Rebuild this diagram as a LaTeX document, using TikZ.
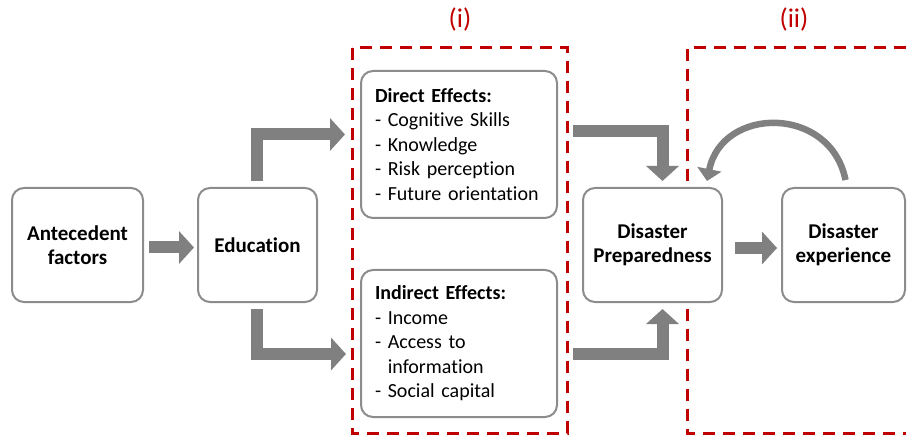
\documentclass[tikz,border=0pt]{standalone}
\usepackage{fontspec}
\setmainfont[Ligatures=NoCommon]{Carlito}
\usetikzlibrary{arrows.meta,calc}
\definecolor{boxgray}{HTML}{8C8C8C}
\definecolor{arrgray}{HTML}{808080}
\definecolor{dred}{HTML}{C00000}
\begin{document}
\begin{tikzpicture}[x=1pt,y=-1pt,
  box/.style={draw=boxgray, line width=2pt, rounded corners=12pt, fill=white, align=center,
    font=\bfseries\fontsize{21}{24}\selectfont, inner sep=0pt},
  effbox/.style={draw=boxgray, line width=2pt, rounded corners=12pt, fill=white, align=left,
    font=\fontsize{20}{24.5}\selectfont, inner sep=0pt, minimum width=196pt, minimum height=147pt,
    text width=168pt},
  bigarrow/.style={draw=arrgray, line width=12pt, line join=miter, -{Triangle[length=15pt,width=32pt]}},
  curvearrow/.style={draw=arrgray, line width=6.5pt, -{Triangle[length=12pt,width=24pt]}},
  region/.style={draw=dred, line width=3pt, dash pattern=on 12pt off 8pt},
  regionlabel/.style={text=dred, font=\fontsize{27}{28}\selectfont}
]
\useasboundingbox (0,0) rectangle (909,435);
% regions
\coordinate (r1a) at (352,48);
\coordinate (r1b) at (567,433);
\draw[region] (r1a) rectangle (r1b);
\coordinate (r2a) at (687,48);
\coordinate (r2b) at (906,48);
\coordinate (r2c) at (687,433);
\coordinate (r2d) at (906,433);
\draw[region] (r2b) -- (r2a) -- (r2c) -- (r2d);
\node[regionlabel] (lab1) at (460,20) {(i)};
\node[regionlabel] (lab2) at (794,20) {(ii)};
% boxes
\node[box, minimum width=131pt, minimum height=114pt] (ante) at (77.5,245) {Antecedent\\factors};
\node[box, minimum width=119pt, minimum height=114pt] (edu) at (257.5,245) {Education};
\node[effbox] (dir) at (459,144.5) {\textbf{Direct Effects:}\\- Cognitive Skills\\- Knowledge\\- Risk perception\\- Future orientation};
\node[effbox] (ind) at (459,343.5) {\textbf{Indirect Effects:}\\- Income\\- Access to\\\phantom{- }information\\- Social capital};
\node[box, minimum width=139pt, minimum height=114pt] (prep) at (652.5,245) {Disaster\\Preparedness};
\node[box, minimum width=123pt, minimum height=114pt] (exp) at (843.5,245) {Disaster\\experience};
% arrows
\draw[bigarrow] ($(ante.east)+(5,2.5)$) -- ($(edu.west)+(-3,2.5)$);
\draw[bigarrow] ($(edu.north)+(-1,-6)$) |- ($(dir.west)+(-15,-10)$);
\draw[bigarrow] ($(edu.south)+(-1,6)$) |- ($(ind.west)+(-14,10.5)$);
\draw[bigarrow] ($(dir.east)+(15,-13.5)$) -| ($(prep.north)+(10,-6)$);
\draw[bigarrow] ($(ind.east)+(15,10.5)$) -| ($(prep.south)+(10,6)$);
\draw[bigarrow] ($(prep.east)+(12,3)$) -- ($(exp.west)+(-4,3)$);
\coordinate (ct) at ($(exp.north)+(2,-7)$);
\coordinate (ch) at ($(prep.north east)+(-16,-6)$);
\draw[curvearrow] (ct) .. controls +(-15,-75) and +(15,-75) .. (ch);
\end{tikzpicture}
\end{document}
